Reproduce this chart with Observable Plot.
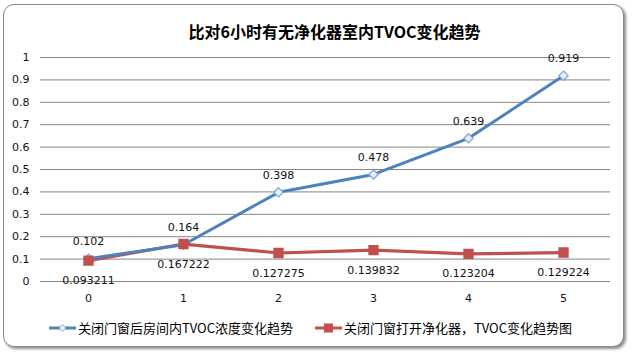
<!DOCTYPE html>
<html>
<head>
<meta charset="utf-8">
<script src="https://cdn.jsdelivr.net/npm/d3@7"></script>
<script src="https://cdn.jsdelivr.net/npm/@observablehq/plot@0.6"></script>
<style>
  html, body { margin: 0; padding: 0; background: #fff; }
  #root { position: relative; width: 633px; height: 358px; overflow: hidden; background: #fff; font-family: "Noto Sans CJK SC", "DejaVu Sans", sans-serif; }
  #card { position: absolute; left: 3px; top: 4px; width: 619px; height: 341px; border: 1px solid #8a8a8a; border-radius: 11px; box-shadow: 2px 2px 3px rgba(0,0,0,0.45); background: #fff; }
  #title { position: absolute; top: 21px; left: 0; width: 597px; padding-left: 36px; text-align: center; font-size: 16px; font-weight: bold; line-height: 20px; color: #000; }
  #chart { position: absolute; top: 45px; left: 0; }
  #legend { position: absolute; top: 319px; left: 0; width: 633px; height: 18px; font-size: 13px; line-height: 18px; color: #000; }
  #legend .item { position: absolute; top: 0; display: flex; align-items: center; white-space: nowrap; }
  #legend svg { display: block; margin-right: 2px; }
</style>
</head>
<body>
<div id="root">
  <div id="card"></div>
  <div id="title">比对6小时有无净化器室内TVOC变化趋势</div>
  <div id="chart"></div>
  <div id="legend"></div>
</div>
<script>
const hours = [0, 1, 2, 3, 4, 5];
const closedValues = [0.102, 0.164, 0.398, 0.478, 0.639, 0.919];
const purifierValues = [0.093211, 0.167222, 0.127275, 0.139832, 0.123204, 0.129224];
const closedLabels = ["0.102", "0.164", "0.398", "0.478", "0.639", "0.919"];
const purifierLabels = ["0.093211", "0.167222", "0.127275", "0.139832", "0.123204", "0.129224"];
const yTicks = [0, 0.1, 0.2, 0.3, 0.4, 0.5, 0.6, 0.7, 0.8, 0.9, 1];
const yTickLabels = ["0", "0.1", "0.2", "0.3", "0.4", "0.5", "0.6", "0.7", "0.8", "0.9", "1"];
const seriesNames = ["关闭门窗后房间内TVOC浓度变化趋势", "关闭门窗打开净化器，TVOC变化趋势图"];

const blue = "#4F81BD";
const red = "#C0504D";

const closed = hours.map((h, i) => ({h, v: closedValues[i], label: closedLabels[i]}));
const purifier = hours.map((h, i) => ({h, v: purifierValues[i], label: purifierLabels[i]}));

const chart = Plot.plot({
  width: 633,
  height: 270,
  marginTop: 12,
  marginBottom: 34,
  marginLeft: 40,
  marginRight: 23,
  style: {fontFamily: "'DejaVu Sans', sans-serif", fontSize: "11px", color: "#111", background: "transparent"},
  x: {type: "point", domain: hours, padding: 0.5, label: null},
  y: {domain: [0, 1], label: null},
  marks: [
    Plot.gridY(yTicks, {stroke: "#868686", strokeOpacity: 1, strokeWidth: 1}),
    Plot.axisY({ticks: yTicks, tickFormat: (d) => yTickLabels[yTicks.indexOf(d)], tickSize: 0, tickPadding: 11, label: null}),
    Plot.axisX({tickSize: 0, tickPadding: 13, label: null}),
    Plot.line(purifier, {x: "h", y: "v", stroke: red, strokeWidth: 3.2}),
    Plot.line(closed, {x: "h", y: "v", stroke: blue, strokeWidth: 3}),
    Plot.dot(closed, {x: "h", y: "v", symbol: "diamond2", r: 4.2, stroke: "#7ba3d6", strokeWidth: 1.2, fill: "#e8eef8"}),
    Plot.dot(purifier, {x: "h", y: "v", symbol: "square", r: 5, fill: red, stroke: red}),
    Plot.text(closed, {x: "h", y: "v", text: "label", dy: -17, fill: "#111"}),
    Plot.text(purifier, {x: "h", y: "v", text: "label", dy: 20, fill: "#111"})
  ]
});
document.getElementById("chart").appendChild(chart);

const legend = document.getElementById("legend");
function swatch(color, kind) {
  const ns = "http://www.w3.org/2000/svg";
  const s = document.createElementNS(ns, "svg");
  s.setAttribute("width", 27); s.setAttribute("height", 12);
  const l = document.createElementNS(ns, "line");
  l.setAttribute("x1", 0); l.setAttribute("x2", 27); l.setAttribute("y1", 6); l.setAttribute("y2", 6);
  l.setAttribute("stroke", color); l.setAttribute("stroke-width", 3);
  s.appendChild(l);
  if (kind === "diamond") {
    const p = document.createElementNS(ns, "path");
    p.setAttribute("d", "M13.5,2.5 L17,6 L13.5,9.5 L10,6 Z");
    p.setAttribute("fill", "#e8eef8"); p.setAttribute("stroke", "#7ba3d6"); p.setAttribute("stroke-width", 1);
    s.appendChild(p);
  } else {
    const r = document.createElementNS(ns, "rect");
    r.setAttribute("x", 9); r.setAttribute("y", 1.5); r.setAttribute("width", 9); r.setAttribute("height", 9);
    r.setAttribute("fill", color);
    s.appendChild(r);
  }
  return s;
}
const legendLeft = [49, 315];
[[seriesNames[0], blue, "diamond"], [seriesNames[1], red, "square"]].forEach(([name, color, kind], i) => {
  const it = document.createElement("div");
  it.className = "item";
  it.style.left = legendLeft[i] + "px";
  it.appendChild(swatch(color, kind));
  const t = document.createElement("span");
  t.textContent = name;
  it.appendChild(t);
  legend.appendChild(it);
});
</script>
</body>
</html>
